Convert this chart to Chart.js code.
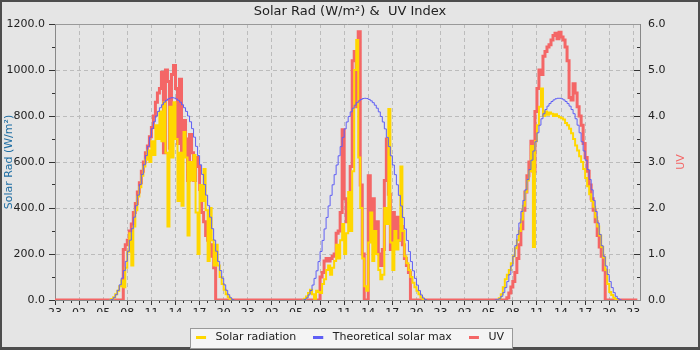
<!DOCTYPE html>
<html>
<head>
<meta charset="utf-8">
<script src="https://cdn.jsdelivr.net/npm/chart.js@4.4.1/dist/chart.umd.min.js"></script>
<style>
html,body{margin:0;padding:0;background:#e5e5e5;}
canvas{display:block;}
</style>
</head>
<body>
<canvas id="c" width="700" height="350"></canvas>
<script>
// ---- tick labels ----
const xTickLabels = ['23','02','05','08','11','14','17','20','23','02','05','08','11','14','17','20','23','02','05','08','11','14','17','20','23'];
const solarTickLabels = ['0.0','200.0','400.0','600.0','800.0','1000.0','1200.0'];
const uvTickLabels = ['0.0','1.0','2.0','3.0','4.0','5.0','6.0'];

// hours after the first 23:00 at which each day's midnight falls
const dayMidnights = [1, 25, 49];
// each daily array starts at 05:30 and has one value every 15 minutes (to 21:30)
const sampleStart = 5.5;
const sampleStep = 0.25;
const axisEnd = 72.83;
const uvEnd = 72.5;

// ---- Solar radiation (W/m²) ----
const solarDay1 = [0,0,4,12,25,40,60,85,55,140,210,290,150,320,390,450,490,540,580,610,650,600,690,630,760,700,820,690,860,640,320,840,620,860,700,430,640,410,730,620,280,600,520,630,380,200,500,430,570,390,170,400,260,150,240,150,100,70,45,25,12,4,0,0,0];
const solarDay2 = [0,0,5,15,30,45,25,5,40,35,30,70,90,130,150,110,140,170,240,180,260,330,200,290,470,300,560,1000,1130,620,400,180,60,40,250,380,170,300,200,130,90,110,400,330,830,250,130,300,220,260,580,300,190,160,130,100,75,55,40,25,12,4,0,0,0];
const solarDay3 = [0,0,0,8,25,55,90,110,130,160,190,225,260,300,350,410,470,520,560,670,230,690,760,840,920,800,820,805,815,810,800,808,800,795,790,785,770,760,745,725,700,672,650,625,600,570,530,495,460,430,405,360,320,280,230,185,130,70,35,22,10,3,0,0,0];

// ---- Theoretical solar max (W/m²) ----
const theoDay1 = [0,0,2,10,23,42,66,95,128,168,212,260,310,360,410,456,502,546,588,628,668,708,745,775,800,820,836,849,860,868,874,878,880,878,874,868,860,849,836,820,800,775,745,708,668,628,588,546,502,456,410,360,310,260,212,168,128,95,66,42,23,10,2,0,0];
const theoDay2 = [0,0,2,9,22,41,65,94,127,167,211,259,309,359,409,455,501,545,587,627,667,707,744,774,798,818,834,847,858,866,872,876,877,876,872,866,858,847,834,818,798,774,744,707,667,627,587,545,501,455,409,359,309,259,211,167,127,94,65,41,22,9,2,0,0];
const theoDay3 = [0,0,1,6,16,32,54,80,111,148,190,236,285,335,385,433,479,524,567,608,648,688,727,760,788,810,828,843,854,863,870,875,877,877,875,870,863,854,843,828,810,788,760,727,688,648,608,567,524,479,433,385,335,285,236,190,148,111,80,54,32,16,6,1,0];

// ---- UV index ----
const uvDay1 = [0,0,0,0,0,0,0,0,1.1,1.2,1.3,1.5,1.65,1.9,2.1,2.35,2.55,2.8,3.0,3.2,3.35,3.55,3.75,4.0,4.3,4.5,4.6,4.95,3.2,5.0,4.75,3.3,4.9,5.1,4.6,3.4,4.8,3.25,3.9,3.5,2.6,3.6,3.2,2.6,3.1,2.9,2.4,1.9,1.7,1.4,1.3,1.2,0.95,0.7,0,0,0,0,0,0,0,0,0,0,0];
const uvDay2 = [0,0,0,0,0,0,0,0,0,0,0.5,0.6,0.85,0.9,0.85,0.9,0.95,1.0,1.45,1.5,1.9,3.7,2.2,1.7,2.1,2.9,5.2,5.4,4.2,5.83,2.5,1.0,0,0,2.7,1.3,2.2,1.4,1.7,1.0,0.75,1.1,2.6,3.5,2.3,1.1,1.9,1.35,1.8,1.3,1.6,1.2,0.9,0.75,0.6,0,0,0,0,0,0,0,0,0,0];
const uvDay3 = [0,0,0,0,0,0,0,0.05,0.15,0.28,0.4,0.6,0.9,1.2,1.55,1.95,2.35,2.7,3.0,3.45,2.8,4.1,4.6,5.0,4.9,5.3,5.4,5.5,5.55,5.65,5.75,5.8,5.68,5.82,5.72,5.65,5.5,5.2,4.4,4.35,4.7,4.5,4.2,4.0,3.8,3.4,3.1,2.8,2.5,2.2,1.95,1.7,1.4,1.15,0.95,0.65,0,0,0,0,0,0,0,0,0];

function buildPoints(days, keepNight) {
  const pts = [];
  if (keepNight) pts.push({x: 0, y: 0});
  days.forEach((vals, d) => {
    let first = 0, last = vals.length - 1;
    if (!keepNight) {
      while (first < vals.length - 1 && vals[first + 1] === 0) first++;
      while (last > 0 && vals[last - 1] === 0) last--;
    }
    for (let i = first; i <= last; i++) {
      pts.push({x: dayMidnights[d] + sampleStart + i * sampleStep, y: vals[i]});
    }
    if (!keepNight) pts.push({x: dayMidnights[d] + sampleStart + (last + 1) * sampleStep, y: null});
  });
  if (keepNight) pts.push({x: uvEnd, y: 0});
  return pts;
}

function legendMarker(color) {
  const c = document.createElement('canvas');
  c.width = 14; c.height = 3;
  const g = c.getContext('2d');
  g.fillStyle = color;
  g.fillRect(0, 0, 10, 3);
  return c;
}

const COL_SOLAR = '#ffd700';
const COL_THEO = '#5f5ff5';
const COL_UV = '#f46666';

Chart.defaults.font.family = "'DejaVu Sans', sans-serif";
Chart.defaults.font.size = 11;
Chart.defaults.color = '#222';

const keepIntegers = (s) => { s.ticks = s.ticks.filter(t => Number.isInteger(t.value)); };

const decorPlugin = {
  id: 'decor',
  afterLayout(chart) {
    chart.legend.top += 3;
    chart.legend.bottom += 3;
  },
  beforeDraw(chart) {
    const {ctx, width, height} = chart;
    ctx.save();
    ctx.fillStyle = '#e5e5e5';
    ctx.fillRect(0, 0, width, height);
    ctx.fillStyle = '#4d4d4d';
    ctx.fillRect(0, 0, width, 2);
    ctx.fillRect(0, 0, 2, height);
    ctx.fillRect(width - 2, 0, 2, height);
    ctx.fillRect(0, height - 3, width, 3);
    const lg = chart.legend;
    const P = lg.options.labels.padding;
    const lw = lg.lineWidths[0];
    const x0 = (lg.left + P + lg.right - lw) / 2;
    const cy = lg.top + P + 5.5;
    const left = Math.round(x0 - 6) + 0.5;
    const right = Math.round(x0 + lw - P + 8) + 0.5;
    const top = Math.round(cy - 10) + 0.5;
    ctx.fillStyle = '#f4f4f4';
    ctx.fillRect(left, top, right - left, 20);
    ctx.strokeStyle = '#999';
    ctx.lineWidth = 1;
    ctx.strokeRect(left, top, right - left, 20);
    ctx.restore();
  },
  beforeDatasetsDraw(chart) {
    const {ctx, chartArea: a} = chart;
    ctx.save();
    ctx.strokeStyle = '#999';
    ctx.lineWidth = 1;
    ctx.beginPath();
    ctx.moveTo(a.left, a.top + 0.5);
    ctx.lineTo(a.right, a.top + 0.5);
    ctx.stroke();
    ctx.restore();
  },
  afterDraw(chart) {
    const {ctx} = chart;
    const s = chart.scales.y1;
    ctx.save();
    ctx.translate(s.right - 19, (s.top + s.bottom) / 2);
    ctx.rotate(-Math.PI / 2);
    ctx.font = "11px 'DejaVu Sans', sans-serif";
    ctx.fillStyle = COL_UV;
    ctx.textAlign = 'center';
    ctx.textBaseline = 'middle';
    ctx.fillText('UV', 0, 0);
    ctx.restore();
  }
};

new Chart(document.getElementById('c'), {
  type: 'line',
  data: {
    datasets: [
      {label: 'Solar radiation', data: buildPoints([solarDay1, solarDay2, solarDay3], false),
       borderColor: COL_SOLAR, backgroundColor: COL_SOLAR, borderWidth: 2, stepped: true,
       pointRadius: 0, pointStyle: legendMarker(COL_SOLAR), xAxisID: 'x', yAxisID: 'y', order: 2},
      {label: 'Theoretical solar max', data: buildPoints([theoDay1, theoDay2, theoDay3], false),
       borderColor: COL_THEO, backgroundColor: COL_THEO, borderWidth: 1, stepped: true,
       pointRadius: 0, pointStyle: legendMarker(COL_THEO), xAxisID: 'x', yAxisID: 'y', order: 1},
      {label: 'UV', data: buildPoints([uvDay1, uvDay2, uvDay3], true),
       borderColor: COL_UV, backgroundColor: COL_UV, borderWidth: 3, stepped: true,
       pointRadius: 0, pointStyle: legendMarker(COL_UV), xAxisID: 'x', yAxisID: 'y1', order: 3}
    ]
  },
  options: {
    responsive: false,
    animation: false,
    events: [],
    layout: {padding: 0},
    plugins: {
      title: {display: true, text: 'Solar Rad (W/m²) &  UV Index', color: '#222',
              font: {size: 13, weight: 'normal'}, padding: {top: 4.2, bottom: 4.2}},
      legend: {position: 'bottom',
               labels: {usePointStyle: true, pointStyleWidth: 14, padding: 17, color: '#222',
                        font: {size: 11}, sort: (a, b) => a.datasetIndex - b.datasetIndex}},
      tooltip: {enabled: false}
    },
    scales: {
      x: {type: 'linear', position: 'bottom', min: 0, max: axisEnd,
          afterBuildTicks: keepIntegers,
          afterFit: (s) => { s.height = 12; },
          ticks: {stepSize: 3, includeBounds: false, padding: 2, autoSkip: false, maxRotation: 0, color: '#222',
                  callback: (v) => xTickLabels[Math.round(v / 3)]},
          grid: {color: '#bcbcbc', lineWidth: 1, tickLength: 5, tickColor: '#333', tickBorderDash: []},
          border: {color: '#888', dash: [4, 3]}},
      xMinor: {type: 'linear', axis: 'x', position: {y: 0}, min: 0, max: axisEnd,
          afterBuildTicks: keepIntegers,
          ticks: {stepSize: 1, includeBounds: false, display: false},
          grid: {drawOnChartArea: false, tickLength: 3, tickColor: '#333', tickBorderDash: []},
          border: {display: false}},
      y: {type: 'linear', position: 'left', min: 0, max: 1200,
          afterFit: (s) => { s.width = 55; },
          ticks: {stepSize: 200, padding: 4, color: '#222',
                  callback: (v) => solarTickLabels[Math.round(v / 200)]},
          grid: {color: '#bcbcbc', lineWidth: 1, tickLength: 6, tickColor: '#333', tickBorderDash: []},
          border: {color: '#888', dash: [4, 3]},
          title: {display: true, text: 'Solar Rad (W/m²)', color: '#1f6ea3',
                  font: {size: 11}, padding: {top: 3, bottom: 0}}},
      yMinor: {type: 'linear', axis: 'y', position: {x: 0}, min: 0, max: 1200,
          ticks: {stepSize: 100, display: false},
          grid: {drawOnChartArea: false, tickLength: 3, tickColor: '#333', tickBorderDash: []},
          border: {display: false}},
      y1: {type: 'linear', position: 'right', min: 0, max: 6,
          afterFit: (s) => { s.width = 60; },
          ticks: {stepSize: 1, padding: 14, color: '#222',
                  callback: (v) => uvTickLabels[Math.round(v)]},
          grid: {drawOnChartArea: false, tickLength: -6, tickColor: '#333', tickBorderDash: []},
          border: {color: '#888'}},
      y1Minor: {type: 'linear', axis: 'y', position: {x: axisEnd}, min: 0, max: 6,
          ticks: {stepSize: 0.5, display: false},
          grid: {drawOnChartArea: false, tickLength: 3, tickColor: '#333', tickBorderDash: []},
          border: {display: false}}
    }
  },
  plugins: [decorPlugin]
});
</script>
</body>
</html>
